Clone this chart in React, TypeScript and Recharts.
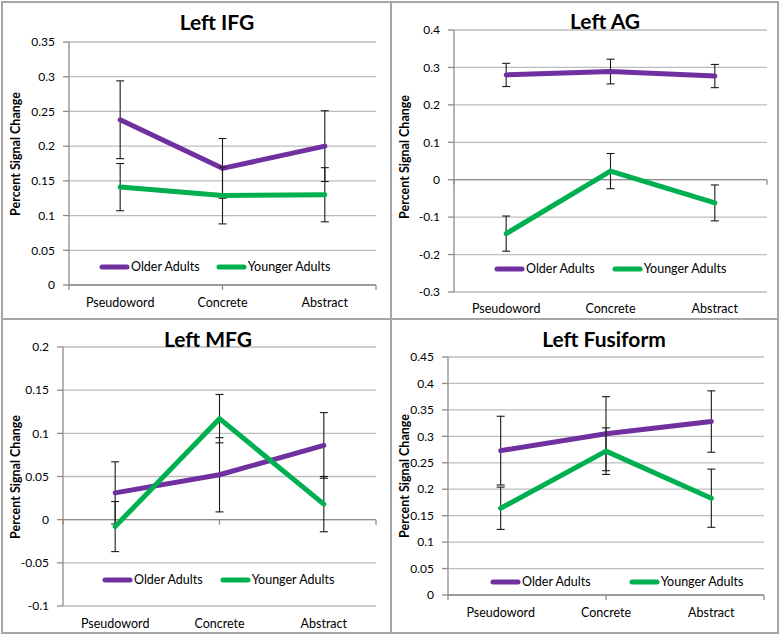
import React from 'react';
import { LineChart, Line, XAxis, YAxis, CartesianGrid, ErrorBar, ReferenceLine, Legend } from 'recharts';

// ---- Data ----
const categories = ['Pseudoword', 'Concrete', 'Abstract'];
const seriesNames = ['Older Adults', 'Younger Adults'];

const ifgTitle = 'Left IFG';
const ifgOlder = [0.238, 0.168, 0.2];
const ifgOlderErr = [0.056, 0.043, 0.051];
const ifgYounger = [0.141, 0.129, 0.13];
const ifgYoungerErr = [0.034, 0.041, 0.039];
const ifgTicks = [0, 0.05, 0.1, 0.15, 0.2, 0.25, 0.3, 0.35];

const agTitle = 'Left AG';
const agOlder = [0.28, 0.289, 0.277];
const agOlderErr = [0.031, 0.033, 0.031];
const agYounger = [-0.144, 0.023, -0.062];
const agYoungerErr = [0.047, 0.047, 0.048];
const agTicks = [-0.3, -0.2, -0.1, 0, 0.1, 0.2, 0.3, 0.4];

const mfgTitle = 'Left MFG';
const mfgOlder = [0.031, 0.052, 0.086];
const mfgOlderErr = [0.036, 0.043, 0.038];
const mfgYounger = [-0.008, 0.117, 0.018];
const mfgYoungerErr = [0.029, 0.028, 0.032];
const mfgTicks = [-0.1, -0.05, 0, 0.05, 0.1, 0.15, 0.2];

const fusTitle = 'Left Fusiform';
const fusOlder = [0.273, 0.305, 0.328];
const fusOlderErr = [0.065, 0.07, 0.058];
const fusYounger = [0.164, 0.272, 0.183];
const fusYoungerErr = [0.04, 0.044, 0.055];
const fusTicks = [0, 0.05, 0.1, 0.15, 0.2, 0.25, 0.3, 0.35, 0.4, 0.45];

const boundaryTicks = [0, 1, 2, 3];
const yAxisTitle = 'Percent Signal Change';

// ---- Styles ----
const PURPLE = '#7030A0';
const GREEN = '#00B050';
const GRID = '#bdbdbd';
const AXIS = '#8c8c8c';
const FRAME = '#a6a6a6';
const FONT = 'Lato, "Open Sans", sans-serif';

function buildRows(older: number[], olderErr: number[], younger: number[], youngerErr: number[]) {
  return categories.map((c, i) => ({
    cat: c,
    older: older[i],
    olderErr: olderErr[i],
    younger: younger[i],
    youngerErr: youngerErr[i],
  }));
}

type PanelProps = {
  left: number;
  top: number;
  width: number;
  height: number;
  margin: { top: number; right: number };
  yWidth: number;
  xHeight: number;
  tickMargin: number;
  ticks: number[];
  rows: any[];
  legendLeft: number;
  legendTop: number;
  legendGap: number;
};

function makeLegend(gap: number) {
  return () => (
    <div style={{ display: 'flex', alignItems: 'center', fontFamily: FONT, fontSize: 12.5, color: '#000', whiteSpace: 'nowrap' }}>
      {seriesNames.map((n, i) => (
        <div key={n} style={{ display: 'flex', alignItems: 'center', marginLeft: i === 0 ? 0 : gap }}>
          <svg width={31} height={8} style={{ display: 'block' }}>
            <line x1={3} y1={4} x2={28} y2={4} stroke={i === 0 ? PURPLE : GREEN} strokeWidth={5} strokeLinecap="round" />
          </svg>
          <span style={{ marginLeft: 1, lineHeight: '16px' }}>{n}</span>
        </div>
      ))}
    </div>
  );
}

function Panel(p: PanelProps) {
  const yMin = p.ticks[0];
  const yMax = p.ticks[p.ticks.length - 1];
  const plotH = p.height - p.margin.top - p.xHeight;
  const tickLen = (5 * (yMax - yMin)) / plotH;
  return (
    <div style={{ position: 'absolute', left: p.left, top: p.top, width: p.width, height: p.height }}>
      <LineChart
        width={p.width}
        height={p.height}
        data={p.rows}
        margin={{ top: p.margin.top, right: p.margin.right, bottom: 0, left: 0 }}
      >
        <CartesianGrid horizontal={true} vertical={false} stroke={GRID} strokeWidth={1.3} />
        <XAxis
          dataKey="cat"
          scale="band"
          height={p.xHeight}
          axisLine={false}
          tickLine={false}
          tickSize={6}
          tickMargin={p.tickMargin}
          interval={0}
          tick={{ fill: '#000', fontSize: 12.5, fontFamily: FONT }}
        />
        <XAxis xAxisId="t" type="number" domain={[0, 3]} hide />
        <YAxis
          domain={[yMin, yMax]}
          ticks={p.ticks}
          width={p.yWidth}
          axisLine={{ stroke: AXIS, strokeWidth: 1.3 }}
          tickLine={{ stroke: AXIS, strokeWidth: 1.3 }}
          tickSize={6}
          tickMargin={8}
          interval={0}
          tick={{ fill: '#000', fontSize: 12, fontFamily: FONT }}
          allowDataOverflow
        />
        <ReferenceLine y={0} stroke={AXIS} strokeWidth={1.3} />
        {boundaryTicks.map((b) => (
          <ReferenceLine
            key={b}
            xAxisId="t"
            segment={[
              { x: b, y: 0 },
              { x: b, y: -tickLen },
            ]}
            stroke={AXIS}
            strokeWidth={1.3}
            ifOverflow="visible"
          />
        ))}
        <Legend
          layout="horizontal"
          verticalAlign="middle"
          align="center"
          content={makeLegend(p.legendGap)}
          wrapperStyle={{ position: 'absolute', left: p.legendLeft, top: p.legendTop, width: 'auto', bottom: 'auto', right: 'auto' }}
        />
        <Line
          dataKey="older"
          name={seriesNames[0]}
          stroke={PURPLE}
          strokeWidth={5}
          strokeLinecap="round"
          strokeLinejoin="round"
          dot={false}
          activeDot={false}
          isAnimationActive={false}
        >
          <ErrorBar dataKey="olderErr" width={4} stroke="#1a1a1a" strokeWidth={1.1} isAnimationActive={false} />
        </Line>
        <Line
          dataKey="younger"
          name={seriesNames[1]}
          stroke={GREEN}
          strokeWidth={5}
          strokeLinecap="round"
          strokeLinejoin="round"
          dot={false}
          activeDot={false}
          isAnimationActive={false}
        >
          <ErrorBar dataKey="youngerErr" width={4} stroke="#1a1a1a" strokeWidth={1.1} isAnimationActive={false} />
        </Line>
      </LineChart>
    </div>
  );
}

const titleStyle = { fontFamily: FONT, fontWeight: 700, fontSize: 21, fill: '#000' } as const;
const yLabelStyle = { fontFamily: FONT, fontWeight: 700, fontSize: 12.5, fill: '#000' } as const;

export default function App() {
  return (
    <div style={{ position: 'absolute', left: 0, top: 0, width: 782, height: 637, background: '#fff', overflow: 'hidden' }}>
      <Panel
        left={0} top={0} width={391} height={319}
        margin={{ top: 42, right: 15 }} yWidth={69} xHeight={34} tickMargin={7}
        ticks={ifgTicks} rows={buildRows(ifgOlder, ifgOlderErr, ifgYounger, ifgYoungerErr)}
        legendLeft={99} legendTop={259} legendGap={16}
      />
      <Panel
        left={391} top={0} width={391} height={319}
        margin={{ top: 30, right: 15 }} yWidth={63} xHeight={27} tickMargin={6}
        ticks={agTicks} rows={buildRows(agOlder, agOlderErr, agYounger, agYoungerErr)}
        legendLeft={103} legendTop={261} legendGap={17}
      />
      <Panel
        left={0} top={319} width={391} height={318}
        margin={{ top: 28, right: 15 }} yWidth={63} xHeight={31} tickMargin={7}
        ticks={mfgTicks} rows={buildRows(mfgOlder, mfgOlderErr, mfgYounger, mfgYoungerErr)}
        legendLeft={102} legendTop={253} legendGap={17}
      />
      <Panel
        left={391} top={319} width={391} height={318}
        margin={{ top: 38, right: 18 }} yWidth={57} xHeight={42} tickMargin={7}
        ticks={fusTicks} rows={buildRows(fusOlder, fusOlderErr, fusYounger, fusYoungerErr)}
        legendLeft={99} legendTop={255} legendGap={38}
      />
      <svg width={782} height={637} style={{ position: 'absolute', left: 0, top: 0, pointerEvents: 'none' }}>
        <rect x={2} y={2} width={776} height={631} fill="none" stroke={FRAME} strokeWidth={2} />
        <line x1={391} y1={2} x2={391} y2={633} stroke={FRAME} strokeWidth={2} />
        <line x1={2} y1={319} x2={778} y2={319} stroke={FRAME} strokeWidth={2} />
        <text x={217} y={30} textAnchor="middle" style={titleStyle}>{ifgTitle}</text>
        <text x={605} y={29} textAnchor="middle" style={titleStyle}>{agTitle}</text>
        <text x={208} y={347} textAnchor="middle" style={titleStyle}>{mfgTitle}</text>
        <text x={604} y={347} textAnchor="middle" style={titleStyle}>{fusTitle}</text>
        <text transform="translate(15,154) rotate(-90)" textAnchor="middle" dominantBaseline="central" style={yLabelStyle}>{yAxisTitle}</text>
        <text transform="translate(404,157) rotate(-90)" textAnchor="middle" dominantBaseline="central" style={yLabelStyle}>{yAxisTitle}</text>
        <text transform="translate(15,477) rotate(-90)" textAnchor="middle" dominantBaseline="central" style={yLabelStyle}>{yAxisTitle}</text>
        <text transform="translate(404,476) rotate(-90)" textAnchor="middle" dominantBaseline="central" style={yLabelStyle}>{yAxisTitle}</text>
      </svg>
    </div>
  );
}
